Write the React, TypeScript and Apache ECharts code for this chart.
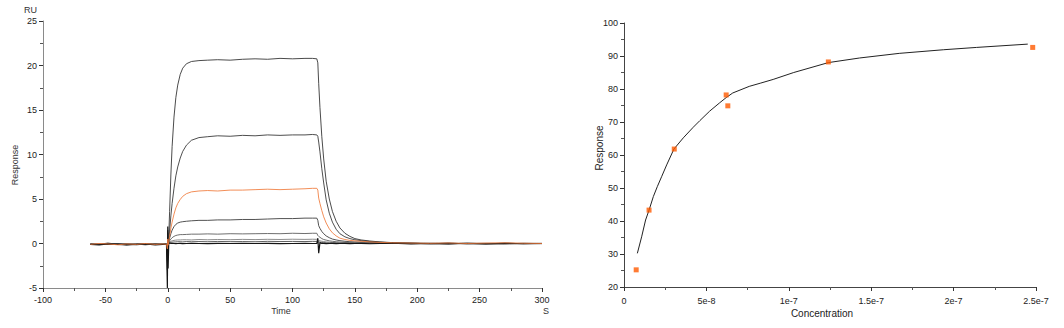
import React, { useEffect, useRef } from "react";
import * as echarts from "echarts";

// ---------- Left chart: sensorgram (Time in s, Response in RU) ----------
const TIME = [
  -62, -55, -48, -40, -33, -25, -18, -10, -4, -1,
  -0.3, 0, 0.3, 0.8, 1.5, 2.5, 3.5, 5, 6.5, 8,
  10, 12, 15, 19, 25, 32, 40, 50, 60, 70,
  80, 90, 100, 110, 116, 119.5, 120.3, 121, 122, 123.5,
  125, 127, 129.5, 132, 135, 138, 142, 146, 150, 155,
  162, 170, 180, 195, 210, 225, 240, 255, 270, 285,
  300,
];

const CURVE_1 = [
  -0.05, -0.1, 0.05, -0.1, -0.05, -0.15, -0.05, -0.1, -0.05, -0.1,
  -2.0, 1.5, -0.8, 0.8, 3.6, 7.7, 10.9, 14.2, 16.4, 17.8,
  19.0, 19.7, 20.2, 20.45, 20.55, 20.6, 20.65, 20.6, 20.7, 20.75,
  20.7, 20.8, 20.75, 20.8, 20.8, 20.75, 20.3, 18.0, 15.3, 12.0,
  9.5, 7.0, 5.0, 3.6, 2.5, 1.75, 1.15, 0.8, 0.55, 0.4,
  0.28, 0.18, 0.1, 0.05, 0.0, 0.05, -0.05, 0.0, -0.05, 0.02,
  -0.02,
];
const CURVE_2 = [
  -0.1, -0.05, -0.1, 0.0, -0.1, -0.05, -0.15, -0.05, -0.1, -0.05,
  -1.2, 0.9, -0.4, 0.3, 1.4, 3.1, 4.5, 6.2, 7.6, 8.6,
  9.6, 10.35, 11.05, 11.6, 11.9, 12.0, 12.1, 12.05, 12.15, 12.1,
  12.2, 12.15, 12.2, 12.2, 12.25, 12.2, 12.05, 11.4, 10.3, 8.4,
  6.8, 4.9, 3.4, 2.4, 1.6, 1.1, 0.75, 0.55, 0.42, 0.32,
  0.22, 0.15, 0.08, 0.03, -0.03, 0.02, 0.0, -0.05, 0.03, -0.02,
  0.0,
];
const CURVE_3 = [
  -0.1, 0.0, -0.05, -0.15, -0.05, -0.1, 0.0, -0.1, -0.05, -0.1,
  -0.6, 0.5, -0.2, 0.2, 0.8, 1.7, 2.4, 3.3, 4.0, 4.5,
  4.95, 5.3, 5.6, 5.8, 5.9, 5.95, 5.9, 6.0, 6.0, 6.05,
  6.1, 6.05, 6.1, 6.15, 6.2, 6.2, 6.0, 5.1, 4.5, 3.7,
  3.0, 2.3, 1.65, 1.2, 0.85, 0.6, 0.45, 0.35, 0.3, 0.25,
  0.18, 0.12, 0.08, 0.05, 0.02, 0.06, 0.0, 0.05, 0.08, 0.03,
  0.0,
];
const CURVE_4 = [
  -0.05, -0.1, -0.1, -0.05, -0.15, -0.05, -0.1, -0.05, -0.1, -0.1,
  -3.0, 1.2, -0.5, 0.1, 0.6, 1.1, 1.5, 1.9, 2.15, 2.3,
  2.4, 2.45, 2.5, 2.55, 2.6, 2.6, 2.65, 2.65, 2.7, 2.7,
  2.75, 2.8, 2.8, 2.85, 2.85, 2.85, 2.6, 2.0, 1.7, 1.35,
  1.1, 0.85, 0.65, 0.5, 0.4, 0.32, 0.25, 0.2, 0.18, 0.15,
  0.12, 0.1, 0.06, 0.03, 0.0, -0.03, 0.02, 0.0, -0.02, 0.0,
  0.02,
];
const CURVE_5 = [
  -0.1, -0.05, -0.1, -0.1, -0.05, -0.1, -0.05, -0.1, -0.1, -0.05,
  -1.5, 1.0, -0.3, 0.05, 0.3, 0.5, 0.65, 0.8, 0.9, 0.95,
  1.0, 1.0, 1.02, 1.05, 1.05, 1.08, 1.05, 1.1, 1.08, 1.1,
  1.12, 1.1, 1.15, 1.12, 1.15, 1.15, 0.9, 0.8, 0.7, 0.55,
  0.45, 0.38, 0.3, 0.25, 0.2, 0.17, 0.14, 0.12, 0.1, 0.08,
  0.06, 0.05, 0.03, 0.02, 0.0, 0.02, -0.02, 0.0, 0.02, -0.02,
  0.0,
];
const CURVE_6 = [
  -0.05, -0.1, -0.05, -0.1, -0.1, -0.05, -0.1, -0.1, -0.05, -0.1,
  -0.8, 0.6, -0.2, 0.0, 0.15, 0.25, 0.3, 0.35, 0.38, 0.4,
  0.4, 0.42, 0.42, 0.4, 0.45, 0.42, 0.45, 0.43, 0.46, 0.44,
  0.47, 0.45, 0.48, 0.46, 0.48, 0.47, 0.4, 0.35, 0.3, 0.25,
  0.22, 0.18, 0.15, 0.12, 0.1, 0.08, 0.07, 0.06, 0.05, 0.04,
  0.03, 0.02, 0.0, 0.02, -0.02, 0.0, 0.02, -0.02, 0.0, 0.02,
  0.0,
];
const CURVE_7 = [
  -0.1, -0.1, -0.05, -0.1, -0.05, -0.1, -0.1, -0.05, -0.1, -0.05,
  -0.5, 0.4, -0.1, 0.0, 0.08, 0.12, 0.15, 0.17, 0.18, 0.2,
  0.2, 0.18, 0.22, 0.2, 0.22, 0.2, 0.23, 0.21, 0.22, 0.2,
  0.24, 0.22, 0.23, 0.22, 0.24, 0.23, 0.2, 0.18, 0.15, 0.12,
  0.1, 0.08, 0.07, 0.06, 0.05, 0.04, 0.03, 0.03, 0.02, 0.02,
  0.01, 0.0, 0.02, -0.01, 0.0, -0.02, 0.0, 0.02, -0.01, 0.0,
  0.0,
];
const CURVE_8 = [
  -0.1, -0.15, -0.05, -0.1, -0.15, -0.1, -0.05, -0.15, -0.1, -0.1,
  -5.0, 1.9, -2.8, 0.0, 0.05, 0.0, 0.02, 0.0, -0.02, 0.0,
  0.02, -0.02, 0.0, 0.03, 0.0, -0.02, 0.02, 0.0, 0.03, 0.0,
  0.02, -0.02, 0.0, 0.02, 0.0, 0.02, 0.6, -1.1, 0.1, 0.0,
  0.02, -0.02, 0.0, 0.02, -0.02, 0.0, 0.02, -0.02, 0.0, 0.02,
  -0.03, 0.0, 0.03, -0.05, 0.02, -0.04, 0.03, -0.05, 0.02, -0.03,
  0.0,
];
const CURVES = [CURVE_1, CURVE_2, CURVE_3, CURVE_4, CURVE_5, CURVE_6, CURVE_7, CURVE_8];
const CURVE_COLORS = ["#2a2a2a", "#2e2e2e", "#f07a3a", "#333333", "#555555", "#7a7a7a", "#444444", "#151515"];

// ---------- Right chart: steady-state affinity ----------
const CONC = [7.4e-9, 1.52e-8, 3.05e-8, 6.2e-8, 6.3e-8, 1.24e-7, 2.48e-7];
const RESP = [25.2, 43.3, 61.8, 78.2, 74.9, 88.2, 92.6];

const FIT_CONC = [
  8.1e-9, 1.07e-8, 1.31e-8, 1.52e-8, 1.78e-8, 2.02e-8, 2.28e-8, 2.59e-8, 3.03e-8,
  3.6e-8, 4.2e-8, 4.6e-8, 5.2e-8, 5.8e-8, 6.2e-8, 6.6e-8, 7.6e-8, 8.3e-8, 9.05e-8,
  1.03e-7, 1.24e-7, 1.43e-7, 1.67e-7, 1.94e-7, 2.14e-7, 2.45e-7,
];
const FIT_RESP = [
  30.2, 35.2, 40.3, 43.3, 47.4, 50.4, 53.4, 57.0, 61.8,
  65.2, 68.4, 70.4, 73.3, 75.8, 77.4, 78.8, 80.8, 81.8, 82.9,
  85.0, 88.0, 89.4, 90.8, 91.9, 92.6, 93.6,
];

const RIGHT_X_TICKS = ["0", "5e-8", "1e-7", "1.5e-7", "2e-7", "2.5e-7"];

const FONT = "Liberation Sans";

export default function App() {
  const ref = useRef<HTMLDivElement | null>(null);

  useEffect(() => {
    if (!ref.current) return;
    const chart = echarts.init(ref.current, undefined, { renderer: "svg" });

    const labelStyle = { fontFamily: FONT, fontSize: 9, color: "#222" };

    const sensorSeries = CURVES.map((c, k) => ({
      type: "line",
      xAxisIndex: 0,
      yAxisIndex: 0,
      data: TIME.map((t, i) => [t, c[i]]),
      showSymbol: false,
      symbol: "none",
      lineStyle: { width: k === 7 ? 1.2 : 0.85, color: CURVE_COLORS[k] },
      z: k === 2 ? 3 : 2,
    }));

    chart.setOption({
      animation: false,
      grid: [
        { left: 43, right: 522, top: 21, bottom: 40 },
        { left: 624, right: 28, top: 23, bottom: 41 },
      ],
      xAxis: [
        {
          gridIndex: 0,
          type: "value",
          min: -100,
          max: 300,
          interval: 50,
          axisLine: { onZero: false, lineStyle: { color: "#8a8a8a", width: 1 } },
          axisTick: { length: 4, lineStyle: { color: "#333" } },
          minorTick: { show: true, splitNumber: 2, length: 3, lineStyle: { color: "#555" } },
          splitLine: { show: false },
          axisLabel: { ...labelStyle, margin: 7 },
        },
        {
          gridIndex: 1,
          type: "value",
          min: 0,
          max: 2.5e-7,
          interval: 5e-8,
          axisLine: { onZero: false, lineStyle: { color: "#444", width: 1 } },
          axisTick: { length: 4, lineStyle: { color: "#333" } },
          minorTick: { show: true, splitNumber: 2, length: 3, lineStyle: { color: "#555" } },
          splitLine: { show: false },
          axisLabel: {
            ...labelStyle,
            margin: 9,
            formatter: (v: number) => RIGHT_X_TICKS[Math.round(v / 5e-8)] ?? "",
          },
        },
      ],
      yAxis: [
        {
          gridIndex: 0,
          type: "value",
          min: -5,
          max: 25,
          interval: 5,
          axisLine: { show: true, onZero: false, lineStyle: { color: "#8a8a8a", width: 1 } },
          axisTick: { show: true, length: 4, lineStyle: { color: "#333" } },
          minorTick: { show: true, splitNumber: 2, length: 3, lineStyle: { color: "#555" } },
          splitLine: { show: false },
          axisLabel: { ...labelStyle, margin: 6 },
        },
        {
          gridIndex: 1,
          type: "value",
          min: 20,
          max: 100,
          interval: 10,
          axisLine: { show: true, onZero: false, lineStyle: { color: "#444", width: 1 } },
          axisTick: { show: true, length: 4, lineStyle: { color: "#333" } },
          minorTick: { show: true, splitNumber: 2, length: 3, lineStyle: { color: "#555" } },
          splitLine: { show: false },
          axisLabel: { ...labelStyle, margin: 6 },
        },
      ],
      graphic: [
        { type: "text", x: 24, y: 5, style: { text: "RU", fontFamily: FONT, fontSize: 9, fill: "#333" } },
        {
          type: "text",
          x: 15,
          y: 165,
          rotation: Math.PI / 2,
          style: { text: "Response", fontFamily: FONT, fontSize: 9, fill: "#333", align: "center", verticalAlign: "middle" },
        },
        { type: "text", x: 281, y: 311, style: { text: "Time", fontFamily: FONT, fontSize: 9, fill: "#333", align: "center", verticalAlign: "middle" } },
        { type: "text", x: 546, y: 311, style: { text: "S", fontFamily: FONT, fontSize: 9, fill: "#333", align: "center", verticalAlign: "middle" } },
        {
          type: "text",
          x: 599,
          y: 148,
          rotation: Math.PI / 2,
          style: { text: "Response", fontFamily: FONT, fontSize: 10, fill: "#222", align: "center", verticalAlign: "middle" },
        },
        { type: "text", x: 822, y: 313, style: { text: "Concentration", fontFamily: FONT, fontSize: 10, fill: "#222", align: "center", verticalAlign: "middle" } },
      ],
      series: [
        ...sensorSeries,
        {
          type: "line",
          xAxisIndex: 1,
          yAxisIndex: 1,
          data: FIT_CONC.map((c, i) => [c, FIT_RESP[i]]),
          showSymbol: false,
          symbol: "none",
          lineStyle: { width: 1, color: "#222" },
        },
        {
          type: "scatter",
          xAxisIndex: 1,
          yAxisIndex: 1,
          data: CONC.map((c, i) => [c, RESP[i]]),
          symbol: "rect",
          symbolSize: 5,
          itemStyle: { color: "#ff5a00" },
          z: 5,
        },
      ],
    });

    return () => chart.dispose();
  }, []);

  return (
    <div
      ref={ref}
      style={{ position: "absolute", left: 0, top: 0, width: 1064, height: 328, background: "#fff" }}
    />
  );
}
